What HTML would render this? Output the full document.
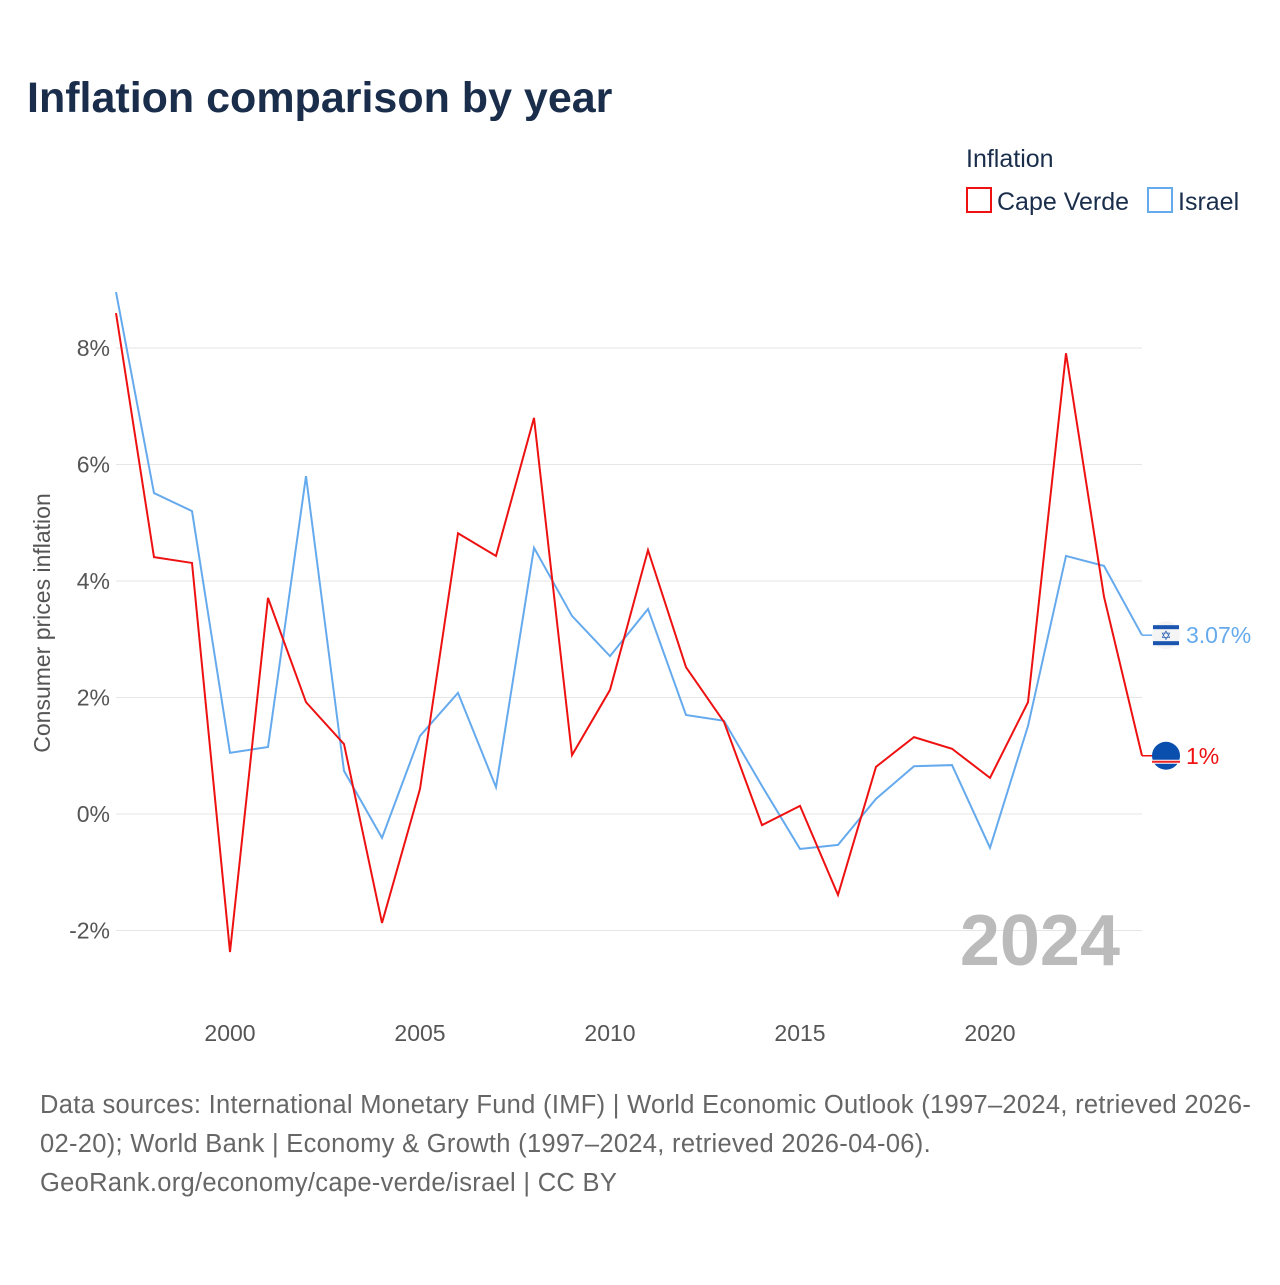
<!DOCTYPE html>
<html><head><meta charset="utf-8">
<style>
body{margin:0;background:#fff;font-family:"Liberation Sans",sans-serif;}
svg text{font-family:"Liberation Sans",sans-serif;}
</style></head>
<body>
<svg id="chart" width="1280" height="1280" viewBox="0 0 1280 1280">
<text x="27" y="112" font-size="43" font-weight="bold" fill="#1a2e4c">Inflation comparison by year</text>
<text x="966" y="167" font-size="25" fill="#1a2e4c">Inflation</text>
<g>
<rect x="967" y="188" width="24" height="24" fill="none" stroke="#ee1111" stroke-width="2"/>
<text x="997" y="210" font-size="25" fill="#1a2e4c">Cape Verde</text></g>
<g>
<rect x="1148" y="188" width="24" height="24" fill="none" stroke="#66aaee" stroke-width="2"/>
<text x="1178" y="210" font-size="25" fill="#1a2e4c">Israel</text></g>
<text transform="translate(50,623) rotate(-90)" text-anchor="middle" font-size="23" fill="#555">Consumer prices inflation</text>
<g id="grid"></g><g id="xt"></g><g id="series"></g>
<text x="1120" y="965" text-anchor="end" font-size="72" font-weight="bold" fill="#bbb">2024</text>
<text font-size="25.5" letter-spacing="0.3" fill="#666">
<tspan x="40" y="1113">Data sources: International Monetary Fund (IMF) | World Economic Outlook (1997–2024, retrieved 2026-</tspan>
<tspan x="40" y="1152">02-20); World Bank | Economy &amp; Growth (1997–2024, retrieved 2026-04-06).</tspan>
<tspan x="40" y="1191">GeoRank.org/economy/cape-verde/israel | CC BY</tspan></text>
</svg>
<script>
const years=[1997,1998,1999,2000,2001,2002,2003,2004,2005,2006,2007,2008,2009,2010,2011,2012,2013,2014,2015,2016,2017,2018,2019,2020,2021,2022,2023,2024];
const capeVerde=[8.6,4.41,4.31,-2.37,3.71,1.92,1.2,-1.87,0.43,4.82,4.43,6.8,1.01,2.13,4.53,2.52,1.58,-0.19,0.14,-1.39,0.81,1.32,1.12,0.62,1.92,7.91,3.73,1.0];
const israel=[8.96,5.51,5.2,1.05,1.15,5.8,0.74,-0.41,1.34,2.08,0.46,4.57,3.40,2.71,3.52,1.7,1.6,0.48,-0.6,-0.53,0.26,0.82,0.84,-0.58,1.51,4.43,4.26,3.07];
const yTicks=[-2,0,2,4,6,8];
const xTicks=[2000,2005,2010,2015,2020];
const X=y=>116+(y-1997)*38, Y=v=>814-v*58.25;
const NS='http://www.w3.org/2000/svg';
function mk(t,a,p){const e=document.createElementNS(NS,t);for(const k in a)e.setAttribute(k,a[k]);p.appendChild(e);return e;}
const g=document.getElementById('grid');
yTicks.forEach(v=>{
const l=mk('line',{x1:116,x2:1142,y1:Y(v),y2:Y(v),stroke:'#e6e6e6','stroke-width':1},g);


const t=mk('text',{x:110,y:Y(v)+8,'text-anchor':'end','font-size':23,fill:'#555'},g);
t.textContent=v+'%';


});
const xt=document.getElementById('xt');
xTicks.forEach(v=>{
const t=mk('text',{x:X(v),y:1041,'text-anchor':'middle','font-size':23,fill:'#555'},xt);
t.textContent=v;


});
const s=document.getElementById('series');
[[israel,'#66aaee','israel-line','3.07%'],[capeVerde,'#ee1111','cape-verde-line','1%']].forEach(([d,c,n,lab])=>{
const p=mk('polyline',{points:d.map((v,i)=>X(years[i])+','+Y(v)).join(' '),fill:'none',stroke:c,'stroke-width':2},s);


const last=d[d.length-1],ly=Y(last);
mk('line',{x1:1142,x2:1154,y1:ly,y2:ly,stroke:c,'stroke-width':1.5},s);
const isCV=c==='#ee1111';
const ci=mk('circle',{cx:1166,cy:ly,r:14,fill:isCV?'#0a4fae':'#f4f4f4'},s);


if(isCV){
mk('rect',{x:1152,y:ly+4,width:28,height:4,fill:'#fff'},s);
mk('rect',{x:1152,y:ly+5,width:28,height:2,fill:'#e22'},s);
}else{
mk('rect',{x:1153,y:ly-10,width:26,height:4,fill:'#1a56b0'},s);
mk('rect',{x:1153,y:ly+6,width:26,height:4,fill:'#1a56b0'},s);
mk('text',{x:1166,y:ly+5,'text-anchor':'middle','font-size':13,fill:'#1a56b0'},s).textContent='✡';
}
const t=mk('text',{x:1186,y:ly+8,'font-size':23,fill:c},s);
t.textContent=lab;


});
</script>
</body></html>
